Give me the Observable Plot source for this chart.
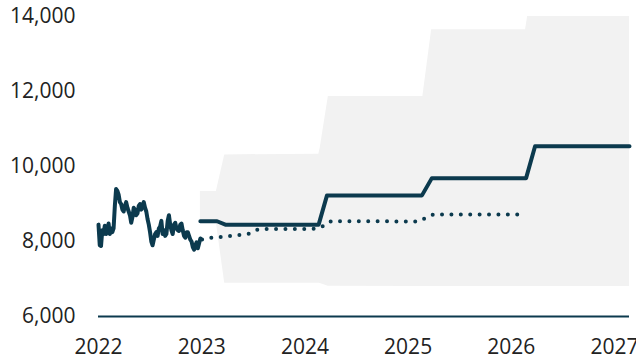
<!DOCTYPE html>
<html><head><meta charset="utf-8">
<script src="https://cdn.jsdelivr.net/npm/d3@7"></script>
<script src="https://cdn.jsdelivr.net/npm/@observablehq/plot@0.6"></script>
<style>body{margin:0;background:#fff;} svg{display:block;}</style>
</head><body><div id="chart"></div>
<script>
// Historical series (regularly spaced from histStart to histEnd)
const histStart = 2022.0;
const histEnd = 2022.987;
const histValues = [
  8450, 7900, 7880, 8300, 8200, 8420, 8200, 8300, 8480, 8200, 8350, 8250,
  8350, 8950, 9400, 9350, 9250, 9050, 9000, 8850, 8800, 8950, 9050, 8900,
  8800, 8700, 8500, 8650, 8900, 8850, 8700, 8750, 8950, 9000, 8850, 8950,
  9050, 8900, 8800, 8600, 8450, 8250, 8000, 7900, 8050, 8200, 8250, 8150,
  8350, 8400, 8550, 8200, 8300, 8150, 8200, 8550, 8700, 8450, 8300, 8200,
  8450, 8500, 8350, 8300, 8280, 8450, 8480, 8300, 8150, 8100, 8250, 8250,
  8150, 8050, 8000, 7850, 7780, 7900, 7980, 7820, 7950, 8080
];

// Central forecast (solid)
const fcYears  = [2022.987, 2023.149, 2023.229, 2024.133, 2024.214, 2025.134, 2025.230, 2026.143, 2026.230, 2027.145];
const fcValues = [8540, 8540, 8450, 8450, 9230, 9230, 9690, 9690, 10540, 10540];

// Alternative path (dotted)
const altYears  = [2023.004, 2023.075, 2023.165, 2023.256, 2023.343, 2023.452, 2023.539, 2023.626, 2024.091, 2024.175, 2024.253, 2025.085, 2025.166, 2025.246, 2026.085];
const altValues = [8053, 8098, 8115, 8142, 8168, 8205, 8311, 8330, 8338, 8408, 8542, 8535, 8621, 8720, 8720];

// Uncertainty band
const bandYears = [2022.987, 2023.142, 2023.223, 2024.135, 2024.149, 2024.227, 2025.143, 2025.228, 2026.138, 2026.158, 2027.145];
const bandLow   = [8500, 8500, 6888, 6888, 6880, 6810, 6800, 6800, 6800, 6800, 6800];
const bandHigh  = [9333, 9333, 10310, 10330, 10500, 11867, 11867, 13650, 13650, 14000, 14000];

// Axis ticks
const xTicks = [2022, 2023, 2024, 2025, 2026, 2027];
const yTicks = [6000, 8000, 10000, 12000, 14000];

const hist = histValues.map((v, i) => ({x: histStart + (histEnd - histStart) * i / (histValues.length - 1), y: v}));
const fc = fcYears.map((x, i) => ({x, y: fcValues[i]}));
const alt = altYears.map((x, i) => ({x, y: altValues[i]}));
const band = bandYears.map((x, i) => ({x, lo: bandLow[i], hi: bandHigh[i]}));

const ink = "#0c3a4e";

const chart = Plot.plot({
  width: 636,
  height: 358,
  marginLeft: 98,
  marginRight: 7,
  marginTop: 16,
  marginBottom: 42,
  style: {fontFamily: "'Open Sans', sans-serif", fontSize: "21px", color: "#222", background: "#fff", overflow: "visible"},
  x: {domain: [2022, 2027.145], ticks: xTicks, tickFormat: d3.format("d"), tickSize: 0, tickPadding: 23, label: null},
  y: {domain: [6000, 14000], ticks: yTicks, tickFormat: d3.format(","), tickSize: 0, tickPadding: 23, label: null},
  marks: [
    Plot.areaY(band, {x: "x", y1: "lo", y2: "hi", fill: "#f2f2f2"}),
    Plot.ruleY([6000], {stroke: ink, strokeWidth: 2}),
    Plot.line(alt, {x: "x", y: "y", stroke: ink, strokeWidth: 4, strokeLinecap: "round", strokeDasharray: "0 9.4"}),
    Plot.line(fc, {x: "x", y: "y", stroke: ink, strokeWidth: 4, strokeLinejoin: "round"}),
    Plot.line(hist, {x: "x", y: "y", stroke: ink, strokeWidth: 4, strokeLinejoin: "round"})
  ]
});
document.getElementById("chart").appendChild(chart);
</script></body></html>
